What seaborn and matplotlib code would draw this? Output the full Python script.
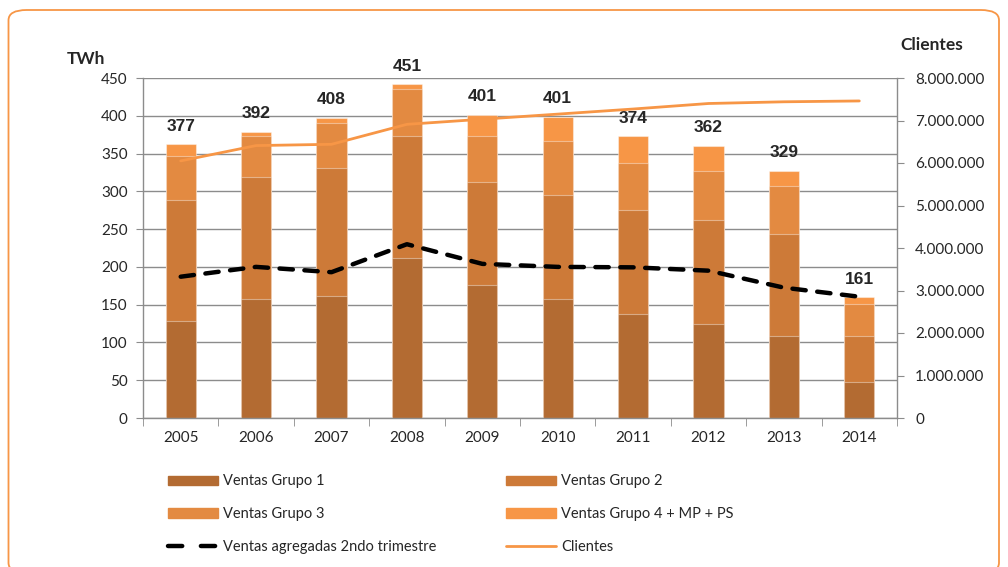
import numpy as np
import pandas as pd
import matplotlib
matplotlib.use("Agg")
import matplotlib.pyplot as plt
import seaborn as sns
from matplotlib.patches import Patch, FancyBboxPatch
from matplotlib.lines import Line2D
from matplotlib.ticker import FuncFormatter, MultipleLocator

years = ["2005", "2006", "2007", "2008", "2009", "2010", "2011", "2012", "2013", "2014"]
grupo1 = [128, 157, 162, 212, 176, 158, 138, 125, 109, 48]
grupo2 = [161, 161.5, 169, 161, 137, 137.6, 137.7, 137, 134, 61]
grupo3 = [58, 54.5, 59, 63, 60, 70.4, 62.3, 65, 64.5, 42]
grupo4 = [15, 6, 7.5, 5.6, 28, 32.8, 34.8, 33.4, 19.8, 9]
total_labels = [377, 392, 408, 451, 401, 401, 374, 362, 329, 161]
ventas_2t = [187, 200, 193, 230, 204, 200, 199.4, 195, 172.5, 160.5]
clientes = [6.05e6, 6.41e6, 6.44e6, 6.91e6, 7.03e6, 7.15e6, 7.27e6, 7.40e6, 7.44e6, 7.46e6]

names = ["Ventas Grupo 1", "Ventas Grupo 2", "Ventas Grupo 3", "Ventas Grupo 4 + MP + PS"]
colors = ["#B36B32", "#CD7A38", "#E38A41", "#F79646"]

sns.set_style("white")
plt.rcParams["font.family"] = ["Lato", "DejaVu Sans"]

W, H = 1008, 567
fig = plt.figure(figsize=(W / 100, H / 100), dpi=100)
ax = fig.add_axes([143 / W, 1 - 418 / H, (897 - 143) / W, (418 - 78) / H])

df = pd.DataFrame({"year": years, "g1": grupo1, "g2": grupo2, "g3": grupo3, "g4": grupo4})
segs = [df["g1"], df["g2"], df["g3"], df["g4"]]
cums = np.cumsum(np.array(segs), axis=0)
# draw tallest cumulative first, then overlay lower ones
for i in range(3, -1, -1):
    d = pd.DataFrame({"year": years, "val": cums[i]})
    sns.barplot(data=d, x="year", y="val", color=colors[i], saturation=1, width=0.4,
                edgecolor=(1, 1, 1, 0.4), linewidth=0.8, ax=ax, zorder=2)

gray = "#8c8c8c"
ax.set_ylim(0, 450)
ax.set_xlim(-0.5, 9.5)
ax.yaxis.set_major_locator(MultipleLocator(50))
ax.grid(axis="y", color=gray, linewidth=1.0)
ax.grid(axis="x", visible=False)
ax.set_axisbelow(True)
for s in ["top", "right"]:
    ax.spines[s].set_visible(False)
for s in ["left", "bottom"]:
    ax.spines[s].set_color(gray)
    ax.spines[s].set_linewidth(1.0)
ax.set_xlabel("")
ax.set_ylabel("")
ax.tick_params(axis="y", which="both", left=True, length=5, color=gray, labelsize=11, pad=6)
ax.set_xticks(np.arange(10))
ax.set_xticklabels(years)
ax.tick_params(axis="x", which="major", length=0, labelsize=11, pad=9)
ax.set_xticks(np.arange(-0.5, 10.0, 1.0), minor=True)
ax.tick_params(axis="x", which="minor", length=6, color=gray, bottom=True)

xs = np.arange(10)
line_df = pd.DataFrame({"x": xs, "v": ventas_2t})
sns.lineplot(data=line_df, x="x", y="v", ax=ax, color="black", linewidth=3.2,
             zorder=5, legend=False)
ax.lines[-1].set_linestyle((0, (3.0, 2.6)))
ax.lines[-1].set_dash_capstyle("round")
ax.set_xlabel("")
ax.set_ylabel("")

for i, t in enumerate(total_labels):
    ax.annotate(str(t), (i, cums[3][i]), xytext=(0, 13), textcoords="offset points",
                ha="center", va="center", fontsize=12.5, fontweight="bold",
                family="Liberation Sans", zorder=6)

ax2 = ax.twinx()
cl_df = pd.DataFrame({"x": xs, "c": clientes})
sns.lineplot(data=cl_df, x="x", y="c", ax=ax2, color="#F79646", linewidth=2.0, legend=False)
ax2.set_ylim(0, 8e6)
ax2.set_xlim(-0.5, 9.5)
ax2.yaxis.set_major_locator(MultipleLocator(1e6))
ax2.yaxis.set_major_formatter(FuncFormatter(lambda v, p: f"{int(v):,}".replace(",", ".")))
ax2.set_ylabel("")
ax2.set_xlabel("")
for s in ["top", "left", "bottom"]:
    ax2.spines[s].set_visible(False)
ax2.spines["right"].set_color(gray)
ax2.spines["right"].set_linewidth(1.0)
ax2.tick_params(axis="y", right=True, length=5, color=gray, labelsize=11, pad=8)
ax2.grid(False)

fig.text(86 / W, 1 - 59 / H, "TWh", ha="center", va="center", fontsize=12.5, fontweight="bold")
fig.text(932 / W, 1 - 45 / H, "Clientes", ha="center", va="center", fontsize=12.5, fontweight="bold")

h = [Patch(color=c) for c in colors]
hd = Line2D([], [], color="black", linewidth=3.2, linestyle=(0, (3.2, 4.2)), dash_capstyle="round")
hc = Line2D([], [], color="#F79646", linewidth=2.0)
leg_kw = dict(frameon=False, fontsize=10.5, handlelength=3.4, handleheight=0.6,
              handletextpad=0.35, labelspacing=1.3, borderpad=0, loc="upper left")
leg1 = fig.legend([h[0], h[2], hd], [names[0], names[2], "Ventas agregadas 2ndo trimestre"],
                  bbox_to_anchor=(161 / W, 1 - 467 / H), **leg_kw)
leg2 = fig.legend([h[1], h[3], hc], [names[1], names[3], "Clientes"],
                  bbox_to_anchor=(499 / W, 1 - 467 / H), **leg_kw)

border = FancyBboxPatch((8.5 / W, -6 / H), (999 - 8.5) / W, (557 + 6) / H,
                        boxstyle="round,pad=0,rounding_size=0.018",
                        transform=fig.transFigure, facecolor="none",
                        edgecolor="#F79646", linewidth=1.3, zorder=-1)
fig.patches.append(border)

fig.savefig("out.png", dpi=100)
